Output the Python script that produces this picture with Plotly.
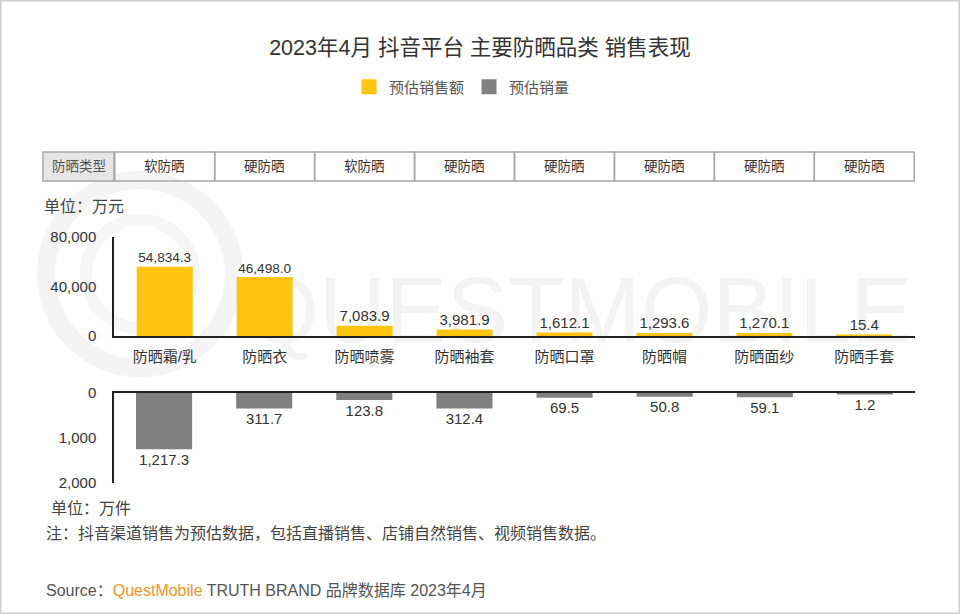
import plotly.graph_objects as go

# data
categories = ["防晒霜/乳", "防晒衣", "防晒喷雾", "防晒袖套", "防晒口罩", "防晒帽", "防晒面纱", "防晒手套"]
sun_types = ["软防晒", "硬防晒", "软防晒", "硬防晒", "硬防晒", "硬防晒", "硬防晒", "硬防晒"]
sales_amount = [54834.3, 46498.0, 7083.9, 3981.9, 1612.1, 1293.6, 1270.1, 15.4]   # 万元
sales_volume = [1217.3, 311.7, 123.8, 312.4, 69.5, 50.8, 59.1, 1.2]              # 万件
amount_ticks = [0, 40000, 80000]
volume_ticks = [0, 1000, 2000]

W, H = 960, 614
FONT = "Arial, Liberation Sans, Noto Sans CJK SC, sans-serif"
YELLOW = "#ffc40f"
GREY = "#808080"


def px(x):
    return x / W


def py(y):
    return 1 - y / H


def note(text, x, y, size=16, color="#444", xanchor="left", xref="paper"):
    return dict(text=text, xref=xref, yref="paper", x=x, y=y, xanchor=xanchor,
                yanchor="middle", showarrow=False, font=dict(size=size, color=color))


fig = go.Figure()

fig.add_trace(go.Bar(
    x=categories, y=sales_amount, name="预估销售额",
    marker=dict(color=YELLOW, line=dict(color=YELLOW, width=3)),
    width=0.53,
    text=[f"{v:,.1f}" for v in sales_amount], textposition="outside",
    textfont=dict(size=15, color="#333"), cliponaxis=False,
    xaxis="x", yaxis="y",
))
fig.add_trace(go.Bar(
    x=categories, y=sales_volume, name="预估销量",
    marker=dict(color=GREY, line=dict(color=GREY, width=3)),
    width=0.53,
    text=[f"{v:,.1f}" for v in sales_volume], textposition="outside",
    textfont=dict(size=15, color="#333"), cliponaxis=False,
    xaxis="x2", yaxis="y2",
))

x_dom = [px(114), px(915)]
axis_common = dict(showgrid=False, zeroline=False, showline=True, linecolor="#222", linewidth=1.5)

shapes = [
    # outer frame
    dict(type="rect", xref="paper", yref="paper", x0=0, x1=1, y0=0, y1=1,
         line=dict(color="#cfcfcf", width=3), fillcolor="rgba(0,0,0,0)"),
    # watermark logo rings
    dict(type="circle", xref="paper", yref="paper", layer="below",
         x0=px(46), x1=px(234), y0=py(368), y1=py(180),
         line=dict(color="#f4f4f4", width=18)),
    dict(type="circle", xref="paper", yref="paper", layer="below",
         x0=px(86), x1=px(194), y0=py(328), y1=py(220),
         line=dict(color="#f6f6f6", width=12)),
    # watermark wording
    dict(type="rect", xref="paper", yref="paper", layer="below",
         x0=px(240), x1=px(918), y0=py(340), y1=py(262),
         line=dict(width=0), fillcolor="rgba(0,0,0,0)",
         label=dict(text="QUESTMOBILE", textposition="middle right",
                    font=dict(size=92, color="#f3f3f3", family="Liberation Sans, Arial"))),
    # type table header cell
    dict(type="rect", xref="paper", yref="paper", x0=px(43), x1=px(114), y0=py(181), y1=py(152),
         line=dict(color="#a8a8a8", width=1.5), fillcolor="#e6e6e6"),
]
annotations = [note("防晒类型", px(78.5), py(166.5), size=13.5, color="#555", xanchor="center")]
for i, t in enumerate(sun_types):
    shapes.append(dict(type="rect", xref="x", yref="paper", x0=i - 0.5, x1=i + 0.5,
                       y0=py(181), y1=py(152), line=dict(color="#a8a8a8", width=1.5),
                       fillcolor="rgba(0,0,0,0)"))
    annotations.append(note(t, i, py(166.5), size=13.5, color="#333", xanchor="center", xref="x"))

annotations += [
    note("单位：万元", px(42), py(207)),
    note("单位：万件", px(49), py(508)),
    note("注：抖音渠道销售为预估数据，包括直播销售、店铺自然销售、视频销售数据。", px(44), py(533)),
    note('Source：<span style="color:#f7941d">QuestMobile</span> TRUTH BRAND 品牌数据库 2023年4月',
         px(44), py(590), color="#555"),
]

fig.update_layout(
    width=W, height=H,
    margin=dict(l=0, r=0, t=0, b=0, autoexpand=False),
    paper_bgcolor="white", plot_bgcolor="rgba(0,0,0,0)",
    font=dict(family=FONT, color="#333"),
    title=dict(text="2023年4月 抖音平台 主要防晒品类 销售表现", x=0.5, xanchor="center",
               y=py(47), yanchor="middle", font=dict(size=21.5, color="#333")),
    legend=dict(orientation="h", x=px(462), xanchor="center", y=py(87), yanchor="middle",
                font=dict(size=15, color="#555"), itemclick=False),
    xaxis=dict(domain=x_dom, anchor="y", type="category", categoryarray=categories,
               ticks="outside", ticklen=6, tickcolor="rgba(0,0,0,0)",
               tickfont=dict(size=15, color="#333"), **axis_common),
    yaxis=dict(domain=[py(336), py(237)], anchor="x", range=[0, 80000],
               tickvals=amount_ticks, tickformat=",", ticks="outside", ticklen=13,
               tickcolor="rgba(0,0,0,0)", tickfont=dict(size=15, color="#333"), **axis_common),
    xaxis2=dict(domain=x_dom, anchor="y2", type="category", categoryarray=categories,
                side="top", showticklabels=False, **axis_common),
    yaxis2=dict(domain=[py(483), py(393)], anchor="x2", range=[2000, 0],
                tickvals=volume_ticks, tickformat=",", ticks="outside", ticklen=13,
                tickcolor="rgba(0,0,0,0)", tickfont=dict(size=15, color="#333"), **axis_common),
    shapes=shapes,
    annotations=annotations,
)

fig.write_html("out.html", config={"displayModeBar": False},
               post_script="document.body.style.margin='0';")
